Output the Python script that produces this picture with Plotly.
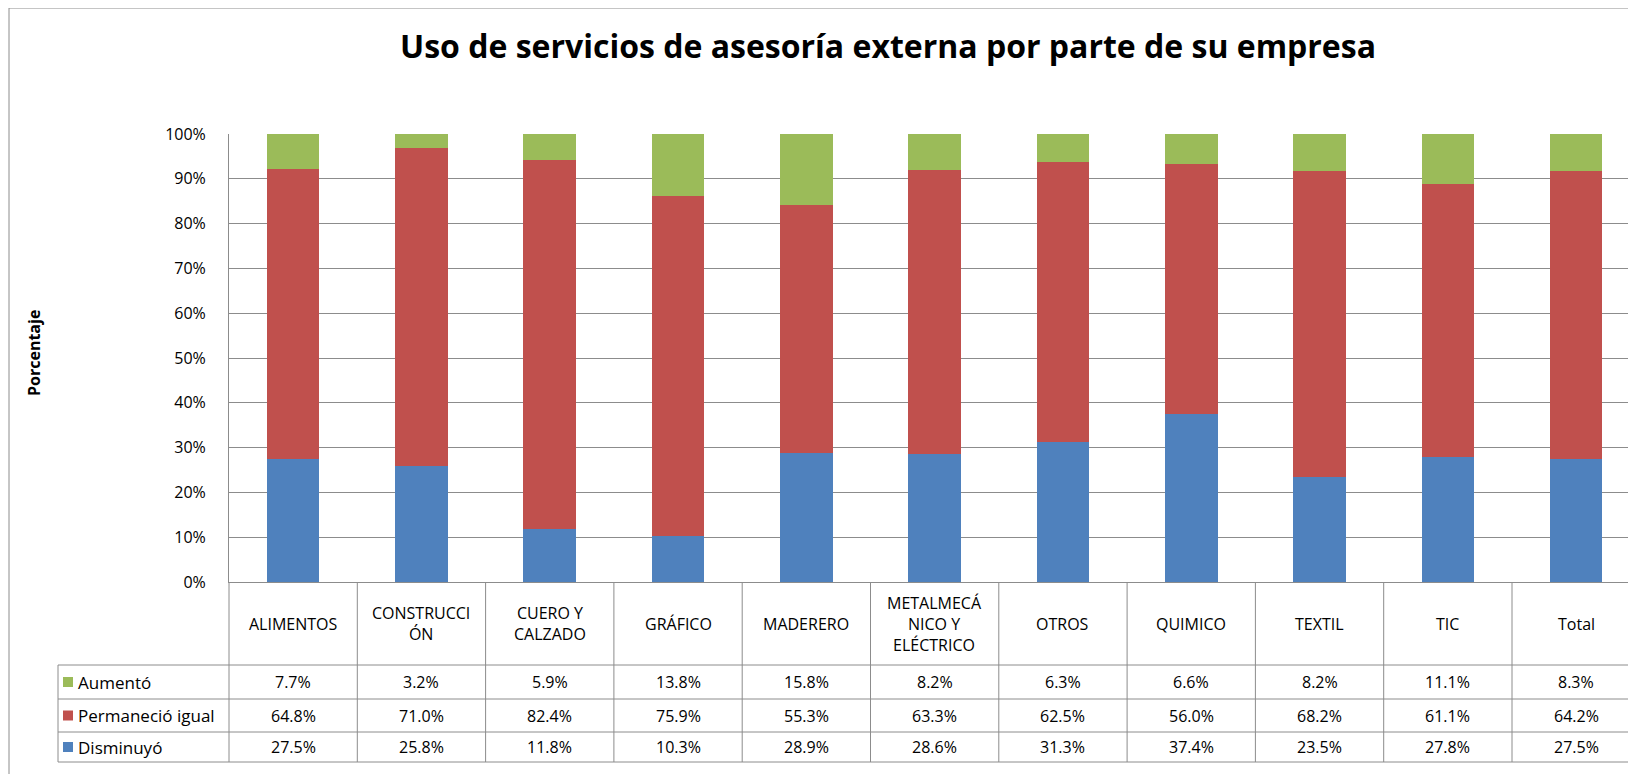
import plotly.graph_objects as go

categories = ["ALIMENTOS", "CONSTRUCCIÓN", "CUERO Y CALZADO", "GRÁFICO", "MADERERO",
              "METALMECÁNICO Y ELÉCTRICO", "OTROS", "QUIMICO", "TEXTIL", "TIC", "Total"]
header_labels = ["ALIMENTOS", "CONSTRUCCI<br>ÓN", "CUERO Y<br>CALZADO", "GRÁFICO", "MADERERO",
                 "METALMECÁ<br>NICO Y<br>ELÉCTRICO", "OTROS", "QUIMICO", "TEXTIL", "TIC", "Total"]
aumento = [7.7, 3.2, 5.9, 13.8, 15.8, 8.2, 6.3, 6.6, 8.2, 11.1, 8.3]
permanecio = [64.8, 71.0, 82.4, 75.9, 55.3, 63.3, 62.5, 56.0, 68.2, 61.1, 64.2]
disminuyo = [27.5, 25.8, 11.8, 10.3, 28.9, 28.6, 31.3, 37.4, 23.5, 27.8, 27.5]

series = [
    ("Disminuyó", disminuyo, "#4F81BD"),
    ("Permaneció igual", permanecio, "#C0504D"),
    ("Aumentó", aumento, "#9BBB59"),
]
table_rows = ["Aumentó", "Permaneció igual", "Disminuyó"]

# the page body has an 8px margin, so work in screen pixels and shift by OFF
OFF = 8
W, H = 1636, 774
L, R, T, B = 229, 1644, 134, 582   # plot area in screen pixels
FONT = "Open Sans, Lato, sans-serif"
GRID = "#8c8c8c"
COL = 128.3
XR = [-0.5, -0.5 + (R - L) / COL]


def xp(px):
    return (px - L) / (R - L)


def yp(py):
    return (B - py) / (B - T)


def xd(d):
    return (d - XR[0]) / (XR[1] - XR[0])


fig = go.Figure()
for name, vals, color in series:
    fig.add_trace(go.Bar(
        x=list(range(len(categories))), y=[v / 100 for v in vals], name=name,
        marker=dict(color=color, line=dict(width=0)),
    ))

shapes = []
annotations = []

# table header labels
for i, lab in enumerate(header_labels):
    annotations.append(dict(x=i, xref="x", y=yp(623.5), yref="paper", text=lab,
                            showarrow=False, font=dict(size=16, color="#000", family=FONT),
                            xanchor="center", yanchor="middle"))

row_centers = {"Aumentó": 682, "Permaneció igual": 715.5, "Disminuyó": 747}
row_data = {"Aumentó": aumento, "Permaneció igual": permanecio, "Disminuyó": disminuyo}
row_color = {name: color for name, _, color in series}
for r in table_rows:
    yc = row_centers[r]
    shapes.append(dict(type="rect", xref="paper", yref="paper",
                       x0=xp(63), x1=xp(73), y0=yp(yc - 5), y1=yp(yc + 5),
                       fillcolor=row_color[r], line=dict(width=0)))
    annotations.append(dict(x=xp(76), xref="paper", y=yp(yc), yref="paper", text=r,
                            showarrow=False, xanchor="left", yanchor="middle",
                            font=dict(size=17, color="#000", family=FONT)))
    for i, v in enumerate(row_data[r]):
        annotations.append(dict(x=i, xref="x", y=yp(yc), yref="paper", text=f"{v:.1f}%",
                                showarrow=False, xanchor="center", yanchor="middle",
                                font=dict(size=16, color="#000", family=FONT)))

# table lines
for py in [665, 699, 732, 762]:
    shapes.append(dict(type="line", xref="paper", yref="paper", x0=xp(58), x1=1,
                       y0=yp(py), y1=yp(py), line=dict(color=GRID, width=1)))
shapes.append(dict(type="line", xref="paper", yref="paper", x0=xp(58), x1=xp(58),
                   y0=yp(665), y1=yp(762), line=dict(color=GRID, width=1)))
for k in range(len(categories) + 1):
    xx = xd(k - 0.5)
    if xx <= 1:
        shapes.append(dict(type="line", xref="paper", yref="paper", x0=xx, x1=xx,
                           y0=yp(582), y1=yp(762), line=dict(color=GRID, width=1)))

# chart border
shapes.append(dict(type="line", xref="paper", yref="paper", x0=xp(9), x1=xp(9),
                   y0=yp(8), y1=yp(782), line=dict(color=GRID, width=1)))
shapes.append(dict(type="line", xref="paper", yref="paper", x0=xp(9), x1=1,
                   y0=yp(8), y1=yp(8), line=dict(color=GRID, width=1)))

annotations.append(dict(x=xp(34), xref="paper", y=yp(353), yref="paper", text="<b>Porcentaje</b>",
                        textangle=-90, showarrow=False, xanchor="center", yanchor="middle",
                        font=dict(size=16, color="#000", family=FONT)))

fig.update_layout(
    width=W, height=H,
    margin=dict(l=L - OFF, r=W - (R - OFF), t=T - OFF, b=H - (B - OFF)),
    paper_bgcolor="white", plot_bgcolor="white",
    barmode="stack", bargap=0.59, showlegend=False,
    title=dict(text="<b>Uso de servicios de asesoría externa por parte de su empresa</b>",
               x=(888 - OFF) / W, xanchor="center", xref="container",
               y=1 - (47 - OFF) / H, yanchor="middle", yref="container",
               font=dict(size=32, color="#000", family=FONT)),
    xaxis=dict(range=XR, showticklabels=False, showgrid=False, zeroline=False,
               showline=True, linecolor=GRID, linewidth=1, ticks=""),
    yaxis=dict(range=[0, 1], tickformat=".0%", dtick=0.1, showgrid=True, gridcolor=GRID,
               gridwidth=1, zeroline=False, showline=True, linecolor=GRID, linewidth=1,
               ticks="", ticklabelstandoff=19, automargin=False,
               tickfont=dict(size=16, color="#000", family=FONT)),
    shapes=shapes, annotations=annotations,
)

fig.write_html("out.html")
